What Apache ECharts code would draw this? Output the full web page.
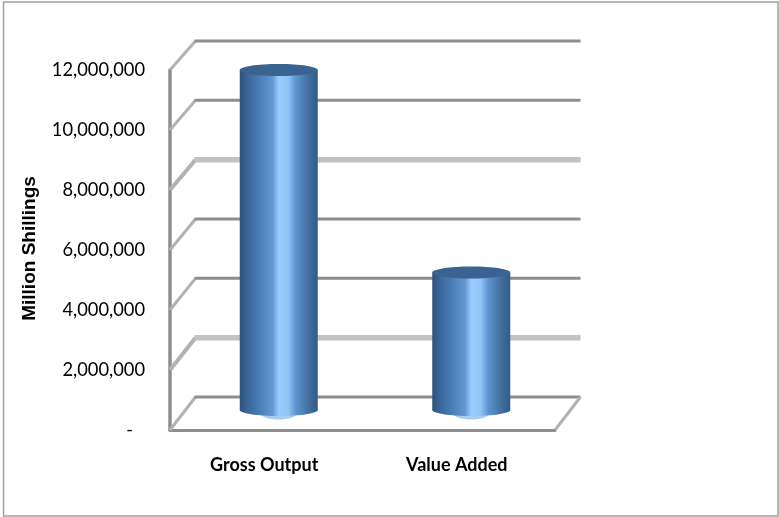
<!DOCTYPE html>
<html>
<head>
<meta charset="utf-8">
<style>html,body{margin:0;padding:0;background:#fff}#c{width:779px;height:517px}</style>
<script src="https://cdn.jsdelivr.net/npm/echarts@6/dist/echarts.min.js"></script>
</head>
<body>
<div id="c"></div>
<script>
const categories = ['Gross Output', 'Value Added'];
const seriesValues = [11400000, 4650000];
const tickValues = [0, 2000000, 4000000, 6000000, 8000000, 10000000, 12000000];
const thickTicks = [2000000, 8000000];
const axisTitle = 'Million Shillings';

const depthX = 25.5, depthYBottom = 33, depthYTop = 29, axisMax = 12000000;
const darkLine = '#8e8e8e', lightLine = '#c2c2c2', sideLine = '#b2b2b2';

const chart = echarts.init(document.getElementById('c'), null, {renderer: 'canvas'});

function renderWall(params, api) {
  const v = api.value(1);
  const cs = params.coordSys;
  const p = api.coord([0, v]);
  const rise = depthYBottom - (depthYBottom - depthYTop) * v / axisMax;
  const y = p[1];
  const xL = cs.x, xR = cs.x + cs.width;
  const thick = thickTicks.indexOf(v) >= 0;
  const children = [
    {type: 'line', shape: {x1: xL, y1: y, x2: xL + depthX, y2: y - rise},
     style: {stroke: sideLine, lineWidth: thick ? 4 : 3}},
    {type: 'line', shape: {x1: xL + depthX - 1, y1: y - rise, x2: xR + depthX, y2: y - rise},
     style: {stroke: thick ? lightLine : darkLine, lineWidth: thick ? 5.5 : 3}}
  ];
  if (v === 0) {
    children.push({type: 'line', shape: {x1: xR, y1: y, x2: xR + depthX, y2: y - rise},
      style: {stroke: sideLine, lineWidth: 3}});
  }
  return {type: 'group', children};
}

function renderCylinder(params, api) {
  const idx = api.value(0), val = api.value(1);
  const top = api.coord([idx, val]);
  const base = api.coord([idx, 0]);
  const cx = top[0] + 12.5;
  const yTop = top[1] - 18, yBase = base[1] - 20;
  const rx = 39, ry = 6;
  const grad = new echarts.graphic.LinearGradient(0, 0, 1, 0, [
    {offset: 0, color: '#2c5280'},
    {offset: 0.12, color: '#3b6a9f'},
    {offset: 0.3, color: '#4f84bc'},
    {offset: 0.42, color: '#6498d0'},
    {offset: 0.5, color: '#9bcbfb'},
    {offset: 0.62, color: '#92c4f6'},
    {offset: 0.72, color: '#5e94cd'},
    {offset: 0.88, color: '#41709f'},
    {offset: 1, color: '#335a86'}
  ]);
  return {type: 'group', children: [
    {type: 'ellipse', shape: {cx: cx, cy: yBase + 3.5, rx: 18, ry: 6}, style: {fill: '#a9cdf0'}},
    {type: 'ellipse', shape: {cx: cx, cy: yBase, rx: rx, ry: ry}, style: {fill: grad}},
    {type: 'rect', shape: {x: cx - rx, y: yTop, width: rx * 2, height: yBase - yTop}, style: {fill: grad}},
    {type: 'ellipse', shape: {cx: cx, cy: yTop, rx: rx, ry: ry}, style: {fill: '#3a6392'}}
  ]};
}

chart.setOption({
  animation: false,
  backgroundColor: '#fff',
  graphic: [{
    type: 'rect', z: -10,
    shape: {x: 3.5, y: 2, width: 774.5, height: 514},
    style: {fill: 'none', stroke: '#a0a0a0', lineWidth: 1.5}
  }],
  grid: {left: 170, right: 224, top: 70, bottom: 87},
  xAxis: {
    type: 'category',
    data: categories,
    axisTick: {show: false},
    axisLine: {lineStyle: {color: darkLine, width: 3}},
    axisLabel: {
      margin: 26, color: '#000', fontFamily: 'Lato', fontWeight: 'bold', fontSize: 18,
      padding: [0, 4, 0, 0]
    }
  },
  yAxis: {
    type: 'value',
    min: 0, max: axisMax, interval: 2000000,
    name: axisTitle,
    nameLocation: 'middle',
    nameGap: 131,
    nameRotate: 90,
    nameTextStyle: {color: '#000', fontFamily: 'Liberation Sans', fontWeight: 'bold', fontSize: 19, padding: [0, 0, 0, 3]},
    splitLine: {show: false},
    axisTick: {show: false},
    axisLine: {show: true, lineStyle: {color: darkLine, width: 3.5}},
    axisLabel: {
      margin: 25, color: '#000', fontFamily: 'Lato', fontSize: 18.3,
      formatter: v => v === 0 ? '{d|-}' : v.toLocaleString('en-US'),
      rich: {d: {padding: [0, 12, 0, 0], fontFamily: 'Lato', fontSize: 18, color: '#000'}}
    }
  },
  series: [
    {
      type: 'custom', z: 1, silent: true,
      data: tickValues.map(v => [0, v]),
      encode: {x: 0, y: 1},
      renderItem: renderWall
    },
    {
      type: 'custom', z: 5, silent: true,
      data: seriesValues.map((v, i) => [i, v]),
      encode: {x: 0, y: 1},
      renderItem: renderCylinder
    }
  ]
});
</script>
</body>
</html>
